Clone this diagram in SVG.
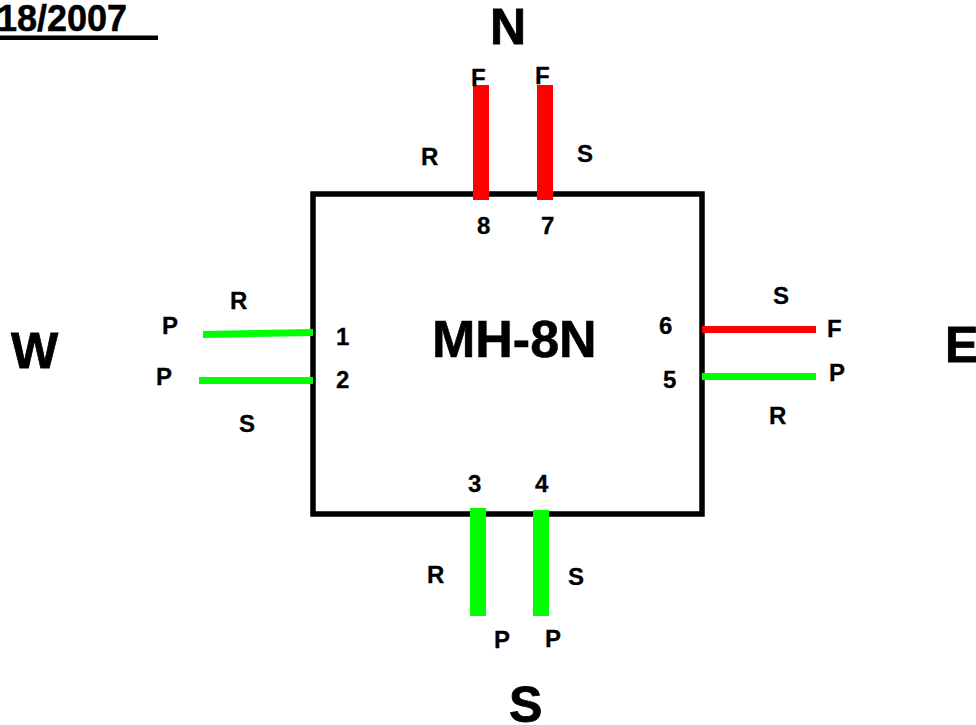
<svg xmlns="http://www.w3.org/2000/svg" width="976" height="725" viewBox="0 0 976 725">
<style>
text{font-family:"Liberation Sans",Arial,sans-serif;font-weight:700;fill:#000;stroke:#000}
.s{font-size:24px;stroke-width:.3px}
.d{font-size:36px;stroke-width:.5px}
.c{font-size:52px;stroke-width:.6px}
.t{font-size:50px;stroke-width:.8px}
.g{fill:#00ff00}
.r{fill:#ff0000}
</style>
<rect width="976" height="725" fill="#fff"/>
<g id="date"><text x="-3" y="31" class="d">18/2007</text><rect x="0" y="35.500" width="158" height="4.500"/></g>
<g id="box"><rect x="313" y="194" width="389" height="320" fill="none" stroke="#000" stroke-width="5.500"/><text x="432" y="357" class="c">MH-8N</text></g>
<g id="north"><text x="490" y="44" class="t">N</text></g>
<g id="south"><text x="509" y="722" class="t">S</text></g>
<g id="west"><text x="11" y="368" class="t">W</text></g>
<g id="east"><text x="945" y="362" class="t">E</text></g>
<g id="connectors">
<rect x="473" y="85" width="16" height="115" class="r"/>
<rect x="537" y="85" width="16" height="115" class="r"/>
<rect x="470" y="508" width="16" height="108" class="g"/>
<rect x="533" y="510" width="16" height="106" class="g"/>
<polygon points="203,331 313,329 313,336 203,338" class="g"/>
<rect x="199" y="377" width="114" height="7" class="g"/>
<rect x="702" y="326" width="114" height="7" class="r"/>
<rect x="702" y="373" width="114" height="7" class="g"/>
</g>
<g id="labels">
<text x="471" y="86" class="s">F</text><text x="535" y="84" class="s">F</text>
<text x="421" y="165" class="s">R</text><text x="577" y="162" class="s">S</text>
<text x="477" y="234" class="s">8</text><text x="541" y="234" class="s">7</text>
<text x="230" y="309" class="s">R</text><text x="162" y="334" class="s">P</text>
<text x="156" y="385" class="s">P</text><text x="239" y="432" class="s">S</text>
<text x="336" y="345" class="s">1</text><text x="336" y="388" class="s">2</text>
<text x="659" y="334" class="s">6</text><text x="663" y="388" class="s">5</text>
<text x="773" y="304" class="s">S</text><text x="827" y="337" class="s">F</text>
<text x="829" y="381" class="s">P</text><text x="769" y="424" class="s">R</text>
<text x="468" y="492" class="s">3</text><text x="535" y="492" class="s">4</text>
<text x="427" y="583" class="s">R</text><text x="568" y="585" class="s">S</text>
<text x="494" y="648" class="s">P</text><text x="545" y="647" class="s">P</text>
</g>
</svg>
